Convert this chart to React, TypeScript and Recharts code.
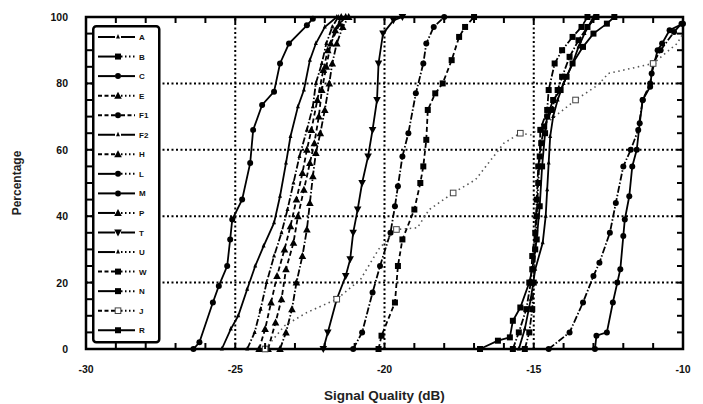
import { LineChart, Line, XAxis, YAxis, ReferenceLine, ReferenceArea } from 'recharts';

// tick values
const xMajor = [-30, -25, -20, -15, -10];
const xMinor = [-30, -29, -28, -27, -26, -25, -24, -23, -22, -21, -20, -19, -18, -17, -16, -15, -14, -13, -12, -11, -10];
const yMajor = [0, 20, 40, 60, 80, 100];
const yMinor = [0, 5, 10, 15, 20, 25, 30, 35, 40, 45, 50, 55, 60, 65, 70, 75, 80, 85, 90, 95, 100];
const xGrid = [-25, -20, -15];
const yGrid = [20, 40, 60, 80];

const names = ['A', 'B', 'C', 'E', 'F1', 'F2', 'H', 'L', 'M', 'P', 'T', 'U', 'W', 'N', 'J', 'R'];

// [signal quality dB, percentage]
const curveC = [[-26.4, 0], [-26.2, 2], [-25.75, 14], [-25.55, 19], [-25.27, 25], [-25.17, 33], [-25.1, 39], [-24.77, 45], [-24.5, 56], [-24.4, 66], [-24.1, 73.5], [-23.7, 77.5], [-23.5, 86], [-23.2, 92], [-22.6, 97.5], [-22.4, 99.5]];
const curveA = [[-25.45, 0], [-25.15, 6], [-24.9, 10], [-24.6, 18], [-24.33, 25], [-24.05, 31], [-23.7, 38], [-23.5, 46], [-23.3, 56], [-23.15, 64], [-22.9, 73], [-22.7, 78], [-22.5, 87], [-22.3, 92], [-22.0, 97], [-21.6, 100]];
const curveU = [[-24.6, 0], [-24.35, 5], [-24.15, 12], [-23.95, 20], [-23.7, 28], [-23.45, 35], [-23.25, 42], [-23.05, 50], [-22.85, 58], [-22.6, 66], [-22.4, 73], [-22.3, 80], [-22.1, 86], [-21.95, 92], [-21.75, 97], [-21.55, 100]];
const curveE = [[-24.2, 0], [-24.0, 6], [-23.8, 14], [-23.6, 22], [-23.35, 30], [-23.15, 37], [-22.95, 45], [-22.75, 53], [-22.6, 60], [-22.45, 66], [-22.25, 75], [-22.05, 84], [-21.9, 90], [-21.65, 96], [-21.45, 100]];
const curveH = [[-23.9, 0], [-23.65, 8], [-23.45, 15], [-23.3, 24], [-23.05, 32], [-22.9, 40], [-22.7, 48], [-22.5, 56], [-22.35, 62], [-22.2, 70], [-22.1, 78], [-21.95, 85], [-21.8, 92], [-21.5, 98], [-21.3, 100]];
const curveP = [[-23.5, 0], [-23.3, 5], [-23.1, 12], [-22.95, 20], [-22.75, 28], [-22.6, 36], [-22.5, 44], [-22.4, 52], [-22.3, 59], [-22.15, 65], [-22.0, 72], [-21.85, 80], [-21.75, 86], [-21.6, 92], [-21.4, 97], [-21.2, 100]];
const curveT = [[-22.05, 0], [-21.9, 5], [-21.6, 15], [-21.3, 22], [-21.15, 27], [-21.05, 35], [-20.9, 42], [-20.75, 50], [-20.55, 58], [-20.4, 66], [-20.25, 75], [-20.2, 86], [-20.05, 95], [-19.7, 99], [-19.4, 100]];
const curveL = [[-21.05, 0], [-20.75, 5], [-20.4, 17], [-20.15, 25], [-19.8, 35], [-19.65, 43], [-19.55, 49], [-19.4, 58], [-19.2, 65], [-18.95, 77], [-18.7, 86], [-18.6, 92], [-18.35, 97], [-18.0, 100]];
const curveW = [[-20.2, 0], [-20.1, 4], [-19.65, 14], [-19.55, 25], [-19.4, 33], [-19.0, 42], [-18.8, 50], [-18.7, 55], [-18.6, 63], [-18.55, 72], [-18.3, 77], [-18.05, 80], [-17.75, 87], [-17.5, 94], [-17.3, 97], [-17.0, 100]];
const curveJ = [[-24.0, 0], [-23.35, 7], [-22.6, 11], [-21.6, 15], [-20.8, 21], [-20.2, 30], [-19.6, 36], [-18.9, 36.5], [-18.5, 42], [-17.7, 47], [-16.95, 51], [-16.0, 62], [-15.45, 65], [-15.1, 64.5], [-14.3, 70], [-13.6, 75], [-12.85, 79.5], [-12.5, 83], [-11.0, 86], [-10.2, 92], [-10.0, 95]];
const curveR = [[-16.8, 0], [-16.2, 2.5], [-15.8, 3.5], [-15.7, 8.5], [-15.45, 12.5], [-15.15, 20], [-15.05, 24], [-14.9, 33], [-14.8, 43], [-14.72, 55], [-14.62, 65], [-14.55, 70], [-14.35, 75], [-14.1, 78], [-13.9, 82], [-13.7, 86], [-13.35, 91], [-13.0, 95], [-12.55, 98], [-12.3, 100]];
const curveN = [[-15.7, 0], [-15.5, 5], [-15.25, 12], [-15.1, 20], [-15.05, 28], [-14.95, 35], [-14.9, 45], [-14.85, 55], [-14.75, 62], [-14.65, 67], [-14.4, 72], [-14.2, 78], [-14.05, 82], [-13.8, 88], [-13.5, 93], [-13.2, 97], [-12.9, 100]];
const curveB = [[-15.3, 0], [-15.15, 5], [-15.05, 12], [-15.0, 20], [-14.95, 30], [-14.9, 40], [-14.85, 50], [-14.8, 58], [-14.78, 66], [-14.55, 72], [-14.5, 78], [-14.3, 86], [-14.05, 90], [-13.7, 94], [-13.4, 97], [-13.2, 100]];
const curveF2 = [[-15.5, 0], [-15.3, 6], [-15.1, 15], [-14.95, 24], [-14.7, 32], [-14.6, 40], [-14.55, 48], [-14.5, 56], [-14.45, 64], [-14.35, 70], [-14.2, 75], [-14.0, 80], [-13.7, 86], [-13.5, 91], [-13.3, 95], [-13.0, 100]];
const curveF1 = [[-14.5, 0], [-13.8, 5], [-13.35, 14], [-13.0, 22], [-12.8, 26], [-12.45, 35], [-12.25, 44], [-12.0, 55], [-11.75, 60], [-11.5, 66], [-11.35, 75], [-11.1, 80], [-11.0, 86], [-10.75, 90], [-10.3, 95.5], [-10.05, 98]];
const curveM = [[-12.95, 0], [-12.9, 4], [-12.55, 5], [-12.35, 14], [-12.2, 20], [-12.1, 24], [-12.0, 34], [-11.95, 39], [-11.8, 46], [-11.7, 55], [-11.55, 60], [-11.45, 68], [-11.35, 75], [-11.1, 79], [-11.05, 83], [-10.85, 90], [-10.7, 92], [-10.45, 96], [-10.0, 98]];

const curves: Record<string, number[][]> = {
  A: curveA, B: curveB, C: curveC, E: curveE, F1: curveF1, F2: curveF2, H: curveH, L: curveL,
  M: curveM, P: curveP, T: curveT, U: curveU, W: curveW, N: curveN, J: curveJ, R: curveR,
};

const DASH = '5 3';
const DASHDOT = '7 2 1.5 2';
const DOT = '1.5 3.5';
const FONT = '"Liberation Sans", Arial, Helvetica, sans-serif';

// chart box: plot area spans these pixels
const W = 703;
const H = 404;
const M = { top: 17, right: 20 };
const Y_W = 86;
const X_H = 55;
const PL = Y_W;
const PR = W - M.right;
const PT = M.top;
const PB = H - X_H;

type Shape = 'circle' | 'square' | 'open' | 'tri' | 'inv' | 'tick';
type Look = { shape: Shape; dash?: string; legL: 'solid' | 'dash'; legR: 'solid' | 'dash' | 'dot'; every?: number; color?: string };

const look: Record<string, Look> = {
  A: { shape: 'tick', legL: 'solid', legR: 'solid' },
  B: { shape: 'square', dash: DASHDOT, legL: 'solid', legR: 'dot' },
  C: { shape: 'circle', legL: 'solid', legR: 'solid' },
  E: { shape: 'tri', dash: DASH, legL: 'dash', legR: 'dot' },
  F1: { shape: 'circle', dash: DASHDOT, legL: 'dash', legR: 'dash' },
  F2: { shape: 'tick', legL: 'solid', legR: 'solid' },
  H: { shape: 'tri', dash: DASH, legL: 'dash', legR: 'dot' },
  L: { shape: 'circle', dash: DASHDOT, legL: 'solid', legR: 'dot' },
  M: { shape: 'circle', legL: 'solid', legR: 'solid' },
  P: { shape: 'tri', dash: DASHDOT, legL: 'solid', legR: 'dot' },
  T: { shape: 'inv', legL: 'solid', legR: 'solid' },
  U: { shape: 'tick', dash: DASHDOT, legL: 'solid', legR: 'dot' },
  W: { shape: 'square', dash: DASH, legL: 'dash', legR: 'dot' },
  N: { shape: 'square', dash: DASHDOT, legL: 'solid', legR: 'dot' },
  J: { shape: 'open', dash: DOT, legL: 'dash', legR: 'dot', every: 3, color: '#555' },
  R: { shape: 'square', legL: 'solid', legR: 'solid' },
};

const toPts = (arr: number[][]) => arr.map(([x, y]) => ({ x, y }));

function Marker({ shape, cx, cy }: { shape: Shape; cx: number; cy: number }) {
  switch (shape) {
    case 'circle':
      return <circle cx={cx} cy={cy} r={3} fill="#000" />;
    case 'square':
      return <rect x={cx - 3} y={cy - 3} width={6} height={6} fill="#000" />;
    case 'open':
      return <rect x={cx - 2.8} y={cy - 2.8} width={5.6} height={5.6} fill="#fff" stroke="#444" strokeWidth={1} />;
    case 'tri':
      return <path d={`M${cx},${cy - 4}L${cx + 3.8},${cy + 3}L${cx - 3.8},${cy + 3}Z`} fill="#000" />;
    case 'inv':
      return <path d={`M${cx},${cy + 4}L${cx + 3.8},${cy - 3}L${cx - 3.8},${cy - 3}Z`} fill="#000" />;
    default:
      return <path d={`M${cx},${cy - 3}L${cx + 2},${cy + 1.5}L${cx - 2},${cy + 1.5}Z`} fill="#000" />;
  }
}

const dotFor = (n: string) => (p: any) => {
  const { cx, cy, index } = p;
  const every = look[n].every ?? 1;
  if (cx == null || cy == null || index % every !== 0) return <g key={`${n}-${index}`} />;
  return <Marker key={`${n}-${index}`} shape={look[n].shape} cx={cx} cy={cy} />;
};

const segDash = (s: string) => (s === 'dash' ? '4 2.5' : s === 'dot' ? '1.5 2.5' : undefined);

function LegendBox() {
  return (
    <svg width={69} height={319} style={{ position: 'absolute', left: 92, top: 25 }}>
      <rect x={1.25} y={1.25} width={66} height={316} rx={3} fill="#fff" stroke="#000" strokeWidth={2.5} />
      {names.map((n, i) => {
        const y = 12 + i * 19.55;
        const l = look[n];
        return (
          <g key={n}>
            <line x1={6} x2={23} y1={y} y2={y} stroke="#000" strokeWidth={2} strokeDasharray={segDash(l.legL)} />
            <line x1={29} x2={43} y1={y} y2={y} stroke="#000" strokeWidth={2} strokeDasharray={segDash(l.legR)} />
            <Marker shape={l.shape} cx={26} cy={y} />
            <text x={47} y={y + 3} fontSize={8} fontWeight={700} fontFamily={FONT} fill="#111">{n}</text>
          </g>
        );
      })}
    </svg>
  );
}

// inward minor tick marks around the frame
function FrameTicks() {
  const sx = (v: number) => PL + ((v + 30) / 20) * (PR - PL);
  const sy = (v: number) => PB - (v / 100) * (PB - PT);
  const t = 6;
  return (
    <svg width={W} height={H} style={{ position: 'absolute', left: 0, top: 0, pointerEvents: 'none' }}>
      <g stroke="#000" strokeWidth={2}>
        {xMinor.map((v) => (
          <g key={`x${v}`}>
            <line x1={sx(v)} x2={sx(v)} y1={PB} y2={PB - t} />
            <line x1={sx(v)} x2={sx(v)} y1={PT} y2={PT + t} />
          </g>
        ))}
        {yMinor.map((v) => (
          <g key={`y${v}`}>
            <line x1={PL} x2={PL + t} y1={sy(v)} y2={sy(v)} />
            <line x1={PR} x2={PR - t} y1={sy(v)} y2={sy(v)} />
          </g>
        ))}
      </g>
    </svg>
  );
}

const labelStyle = { fill: '#111', fontSize: 10.5, fontWeight: 700, fontFamily: FONT };

const BottomTick = (p: any) =>
  xMajor.includes(p.payload.value) ? (
    <text x={p.x} y={p.y + 24} textAnchor="middle" {...labelStyle}>{p.payload.value}</text>
  ) : <g />;
const LeftTick = (p: any) =>
  yMajor.includes(p.payload.value) ? (
    <text x={p.x - 18} y={p.y + 4} textAnchor="end" {...labelStyle}>{p.payload.value}</text>
  ) : <g />;

export default function App() {
  return (
    <div style={{ position: 'absolute', left: 0, top: 0, width: W, height: H, background: '#fff' }}>
      <LineChart width={W} height={H} margin={{ top: M.top, right: M.right, bottom: 0, left: 0 }}>
        <XAxis type="number" dataKey="x" domain={[-30, -10]} ticks={xMinor} interval={0} height={X_H}
          tickSize={0} tickMargin={0} axisLine={false} tickLine={false} tick={BottomTick}
          label={{ value: 'Signal Quality (dB)', position: 'insideBottom', offset: 4,
            style: { fill: '#222', fontSize: 13.5, fontWeight: 700, fontFamily: FONT } }} />
        <YAxis type="number" domain={[0, 100]} ticks={yMinor} interval={0} width={Y_W}
          tickSize={0} tickMargin={0} axisLine={false} tickLine={false} tick={LeftTick}
          label={{ value: 'Percentage', angle: -90, position: 'insideLeft', offset: 17,
            style: { textAnchor: 'middle', fill: '#222', fontSize: 12, fontWeight: 700, fontFamily: FONT } }} />
        {xGrid.map((v) => (
          <ReferenceLine key={`gx${v}`} x={v} stroke="#000" strokeWidth={2} strokeDasharray="2 2.5" />
        ))}
        {yGrid.map((v) => (
          <ReferenceLine key={`gy${v}`} y={v} stroke="#000" strokeWidth={2} strokeDasharray="2 2.5" />
        ))}
        {names.map((n) => (
          <Line key={n} data={toPts(curves[n])} dataKey="y" type="linear"
            stroke={look[n].color ?? '#000'} strokeWidth={n === 'J' ? 1.6 : 1.8}
            strokeDasharray={look[n].dash} dot={dotFor(n)} activeDot={false}
            isAnimationActive={false} legendType="none" />
        ))}
        <ReferenceArea x1={-30} x2={-10} y1={0} y2={100} fill="none" fillOpacity={0} stroke="#000" strokeWidth={2.5} />
      </LineChart>
      <FrameTicks />
      <LegendBox />
    </div>
  );
}
